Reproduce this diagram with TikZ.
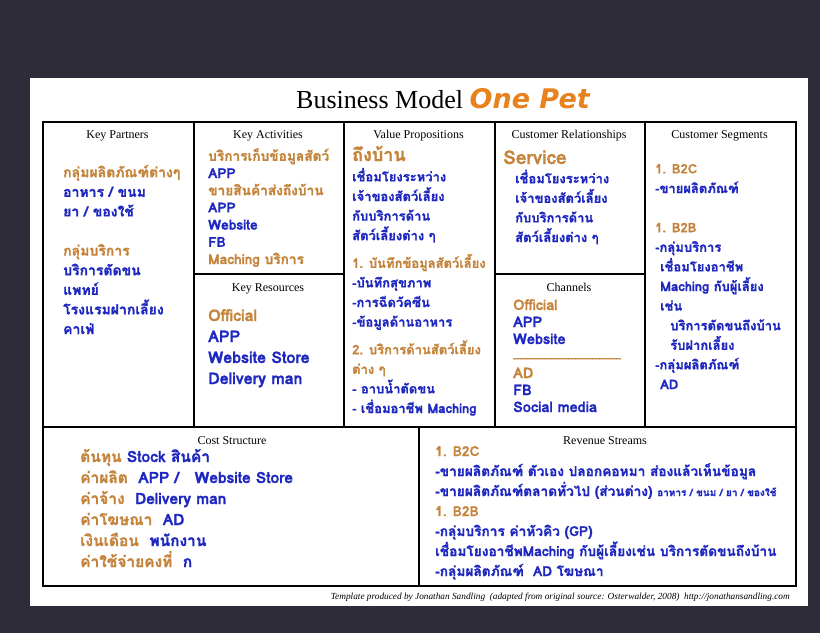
\documentclass[tikz,border=0pt]{standalone}
\usepackage{fontspec}
\setmainfont{Liberation Serif}
\newfontfamily\thai[Script=Thai, BoldFeatures={FakeBold=1.3}]{Loma}
\newfontfamily\titlesans{DejaVu Sans}
\definecolor{bgdark}{RGB}{45,44,56}
\definecolor{txtorange}{RGB}{196,132,60}
\definecolor{txtblue}{RGB}{30,40,192}
\definecolor{titleorange}{RGB}{232,130,28}
\newcommand{\og}[1]{\textcolor{txtorange}{#1}}
\tikzset{
  cell/.style={draw=black, line width=1.8pt, inner sep=0pt, anchor=north west},
  head/.style={font=\fontsize{12}{14}\selectfont, inner sep=0pt, anchor=base},
  body/.style={font=\thai\bfseries\fontsize{13}{19.6}\selectfont, align=left, anchor=base west, inner sep=0pt, text=txtblue},
}
\begin{document}
\begin{tikzpicture}[x=1pt,y=-1pt]
\useasboundingbox (0,0) rectangle (820,633);
\fill[bgdark] (0,0) rectangle (820,633);
\fill[white] (30,78) rectangle (808,606);
% title
\node[inner sep=0pt, anchor=base] (title) at (443,108) {\fontsize{26}{30}\selectfont Business Model \textcolor{titleorange}{\titlesans\bfseries\itshape\fontsize{27}{30}\selectfont One Pet}};
% cells
\node[cell, minimum width=151pt, minimum height=305pt] (kp) at (42,121) {};
\node[cell, minimum width=150pt, minimum height=152pt] (ka) at (193,121) {};
\node[cell, minimum width=150pt, minimum height=153pt] (kr) at (193,273) {};
\node[cell, minimum width=151pt, minimum height=305pt] (vp) at (343,121) {};
\node[cell, minimum width=150pt, minimum height=152pt] (cr) at (494,121) {};
\node[cell, minimum width=150pt, minimum height=153pt] (ch) at (494,273) {};
\node[cell, minimum width=151pt, minimum height=305pt] (cs) at (644,121) {};
\node[cell, minimum width=376pt, minimum height=159pt] (cost) at (42,426) {};
\node[cell, minimum width=377pt, minimum height=159pt] (rev) at (418,426) {};
% headers
\node[head] (kph) at (117.5,138) {Key Partners};
\node[head] (kah) at (268,138) {Key Activities};
\node[head] (krh) at (268,291) {Key Resources};
\node[head] (vph) at (418.5,138) {Value Propositions};
\node[head] (crh) at (569,138) {Customer Relationships};
\node[head] (chh) at (569,291) {Channels};
\node[head] (csh) at (719.5,138) {Customer Segments};
\node[head] (costh) at (232,444) {Cost Structure};
\node[head] (revh) at (605,444) {Revenue Streams};
% bodies (anchor = baseline of the last line)
\node[body, font=\thai\bfseries\fontsize{14}{19.6}\selectfont] (kpt) at (63,334) {\og{กลุ่มผลิตภัณฑ์ต่างๆ}\\ อาหาร / ขนม\\ ยา / ของใช้\\[19.6pt] \og{กลุ่มบริการ}\\ บริการตัดขน\\ แพทย์\\ โรงแรมฝากเลี้ยง\\ คาเฟ่};
\node[body, font=\thai\bfseries\fontsize{13.7}{17.2}\selectfont] (kat) at (208,264) {\og{บริการเก็บข้อมูลสัตว์}\\ APP\\ \og{ขายสินค้าส่งถึงบ้าน}\\ APP\\ Website\\ FB\\ \og{Maching บริการ}};
\node[body, font=\thai\bfseries\fontsize{16}{21}\selectfont] (krt) at (208,384) {\og{Official}\\ APP\\ Website Store\\ Delivery man};
\node[body, font=\thai\bfseries\fontsize{18}{20}\selectfont] (vpt1) at (352,161) {\og{ถึงบ้าน}};
\node[body] (vpt2) at (352,413) {เชื่อมโยงระหว่าง\\ เจ้าของสัตว์เลี้ยง\\ กับบริการด้าน\\ สัตว์เลี้ยงต่าง ๆ\\[8pt] \og{1. บันทึกข้อมูลสัตว์เลี้ยง}\\ -บันทึกสุขภาพ\\ -การฉีดวัคซีน\\ -ข้อมูลด้านอาหาร\\[8pt] \og{2. บริการด้านสัตว์เลี้ยง}\\ \og{ต่าง ๆ}\\ - อาบน้ำตัดขน\\ - เชื่อมอาชีพ Maching};
\node[body, font=\thai\bfseries\fontsize{19}{20}\selectfont] (crt1) at (503,164) {\og{Service}};
\node[body] (crt2) at (515,242) {เชื่อมโยงระหว่าง\\ เจ้าของสัตว์เลี้ยง\\ กับบริการด้าน\\ สัตว์เลี้ยงต่าง ๆ};
\node[body, font=\thai\bfseries\fontsize{14.5}{17}\selectfont] (cht) at (513,412) {\og{Official}\\ APP\\ Website\\ \og{\fontsize{9}{17}\selectfont ------------------------------------}\\ \og{AD}\\ FB\\ Social media};
\node[body] (cst) at (655,389) {\og{1. B2C}\\ -ขายผลิตภัณฑ์\\[19.6pt] \og{1. B2B}\\ -กลุ่มบริการ\\ \hspace*{5pt}เชื่อมโยงอาชีพ\\ \hspace*{5pt}Maching กับผู้เลี้ยง\\ \hspace*{5pt}เช่น\\ \hspace*{15pt}บริการตัดขนถึงบ้าน\\ \hspace*{15pt}รับฝากเลี้ยง\\ -กลุ่มผลิตภัณฑ์\\ \hspace*{5pt}AD};
\node[body, font=\thai\bfseries\fontsize{15.5}{21}\selectfont] (costt) at (80,567) {\og{ต้นทุน} Stock สินค้า\\ \og{ค่าผลิต}\ \ APP /\ \ \ Website Store\\ \og{ค่าจ้าง}\ \ Delivery man\\ \og{ค่าโฆษณา}\ \ AD\\ \og{เงินเดือน}\ \ พนักงาน\\ \og{ค่าใช้จ่ายคงที่}\ \ ก};
\node[body, font=\thai\bfseries\fontsize{13.7}{20}\selectfont] (revt) at (435,576) {\og{1. B2C}\\ -ขายผลิตภัณฑ์ ตัวเอง ปลอกคอหมา ส่องแล้วเห็นข้อมูล\\ -ขายผลิตภัณฑ์ตลาดทั่วไป (ส่วนต่าง) {\fontsize{10}{20}\selectfont อาหาร / ขนม / ยา / ของใช้}\\ \og{1. B2B}\\ -กลุ่มบริการ ค่าหัวคิว (GP)\\ เชื่อมโยงอาชีพMaching กับผู้เลี้ยงเช่น บริการตัดขนถึงบ้าน\\ -กลุ่มผลิตภัณฑ์\ \ AD โฆษณา};
% footer
\node[inner sep=0pt, anchor=base east, font=\itshape\fontsize{9.3}{11}\selectfont] (foot) at (790,599) {Template produced by Jonathan Sandling\ \ (adapted from original source: Osterwalder, 2008)\ \ http://jonathansandling.com};
\end{tikzpicture}
\end{document}
